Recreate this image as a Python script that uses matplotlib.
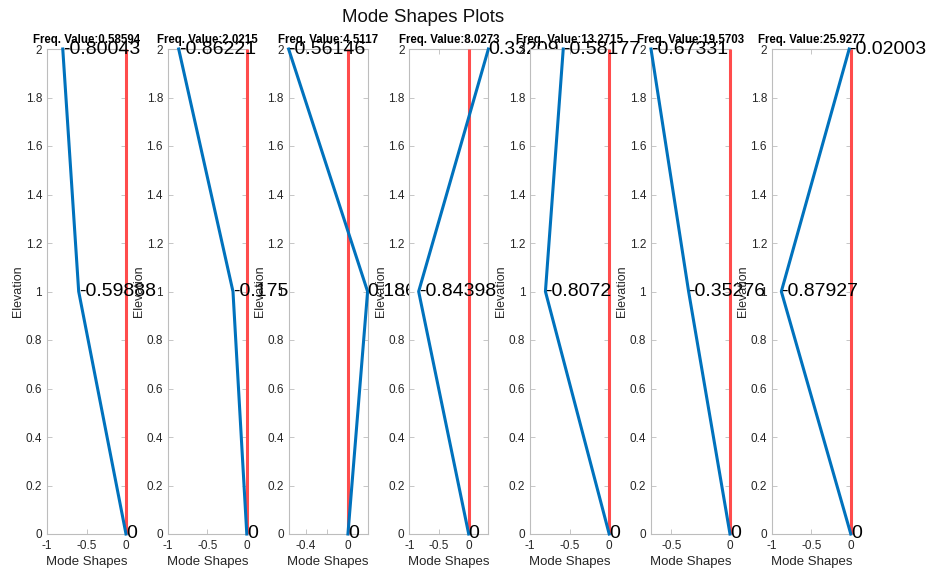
import numpy as np
import matplotlib
matplotlib.use("Agg")
import matplotlib.pyplot as plt

plt.rcParams['font.family'] = ['Liberation Sans', 'DejaVu Sans']

# Elevation levels (floors) and modal displacements for each mode
elevation = [0, 1, 2]
mode_1 = [0, -0.59888, -0.80043]
mode_2 = [0, -0.175, -0.86221]
mode_3 = [0, 0.186, -0.56146]
mode_4 = [0, -0.84398, 0.33209]
mode_5 = [0, -0.8072, -0.58177]
mode_6 = [0, -0.35276, -0.67331]
mode_7 = [0, -0.87927, -0.02003]
modes = [mode_1, mode_2, mode_3, mode_4, mode_5, mode_6, mode_7]

freq_labels = ["0.58594", "2.0215", "4.5117", "8.0273", "13.2715", "19.5703", "25.9277"]

# x-limits of each panel
xlim_lo = [-1, -1, -0.56146, -1, -1, -0.67331, -1]
xlim_hi = [0, 0, 0.186, 0.33209, 0, 0, 0]

# x ticks of each panel
xtick_vals = [[-1, -0.5, 0], [-1, -0.5, 0], [-0.4, -0.2, 0], [-1, -0.5, 0],
              [-1, -0.5, 0], [-0.5, 0], [-1, -0.5, 0]]
xtick_text = [["-1", "-0.5", "0"], ["-1", "-0.5", "0"], ["-0.4", "", "0"],
              ["-1", "-0.5", "0"], ["-1", "-0.5", "0"], ["-0.5", "0"],
              ["-1", "-0.5", "0"]]

ytick_vals = [0, 0.2, 0.4, 0.6, 0.8, 1, 1.2, 1.4, 1.6, 1.8, 2]

W, H = 930, 570
fig = plt.figure(figsize=(W / 100, H / 100), dpi=100)
fig.patch.set_facecolor('white')

axis_gray = '#bdbdbd'
label_col = '#262626'
blue = '#0072BD'
red = '#ff4c4c'

left0, step, width = 47, 120.8, 79
bottom, height = 36, 485

for i, shape in enumerate(modes):
    ax = fig.add_axes([(left0 + step * i) / W, bottom / H, width / W, height / H])
    ax.set_facecolor('white')

    ax.plot([0, 0], [elevation[0], elevation[-1]], color=red, lw=2.2,
            clip_on=False, zorder=3, solid_capstyle='butt')
    ax.plot(shape, elevation, color=blue, lw=2.2, clip_on=False, zorder=3.5)

    for xv, yv in zip(shape, elevation):
        ax.text(xv, yv, f"{xv:.5g}", fontsize=14, ha='left', va='center',
                color='black', clip_on=False, zorder=4)

    ax.set_xlim(xlim_lo[i], xlim_hi[i])
    ax.set_ylim(0, 2)
    ax.set_xticks(xtick_vals[i])
    ax.set_xticklabels(xtick_text[i])
    ax.set_yticks(ytick_vals)
    ax.set_yticklabels([f"{v:g}" for v in ytick_vals])

    ax.tick_params(direction='in', top=True, right=True, length=3.5, width=0.6,
                   color=axis_gray, labelcolor=label_col, labelsize=8.5)
    ax.tick_params(axis='x', pad=4.5)
    ax.tick_params(axis='y', pad=3.5)
    for sp in ax.spines.values():
        sp.set_color(axis_gray)
        sp.set_linewidth(0.8)
        sp.set_zorder(1)

    ax.set_xlabel("Mode Shapes", fontsize=9.5, color=label_col, labelpad=3)
    ax.set_ylabel("Elevation", fontsize=9, color=label_col, labelpad=1)
    ax.set_title("Freq. Value:" + freq_labels[i], fontsize=8.3, fontweight='bold',
                 color='black', pad=4.5)

fig.text(423 / W, 1 - 18 / H, "Mode Shapes Plots", fontsize=13.5, ha='center',
         va='center', color='#111111')

fig.savefig("out.png", dpi=100, facecolor='white')
